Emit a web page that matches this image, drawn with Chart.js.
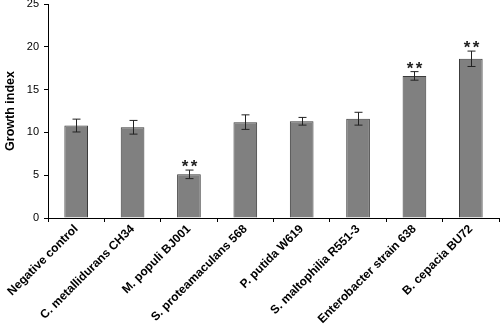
<!DOCTYPE html>
<html>
<head>
<meta charset="utf-8">
<script src="https://cdn.jsdelivr.net/npm/chart.js@4/dist/chart.umd.min.js"></script>
<style>
  html, body { margin: 0; padding: 0; background: #fff; }
  #wrap { width: 500px; height: 326px; }
</style>
</head>
<body>
<div id="wrap"><canvas id="growthChart"></canvas></div>
<script>
const strains = [
  "Negative control",
  "C. metallidurans CH34",
  "M. populi BJ001",
  "S. proteamaculans 568",
  "P. putida W619",
  "S. maltophilia R551-3",
  "Enterobacter strain 638",
  "B. cepacia BU72"
];
const growthIndex = [10.8, 10.6, 5.1, 11.2, 11.3, 11.6, 16.6, 18.6];
const errors = [0.75, 0.8, 0.5, 0.85, 0.45, 0.75, 0.5, 0.9];
const significant = [false, false, true, false, false, false, true, true];
const yTicks = [0, 5, 10, 15, 20, 25];

const FONT = "'Liberation Sans', Arial, sans-serif";

// error bars + "**" markers, positioned through the chart scales
const errorBarPlugin = {
  id: "errorBars",
  afterDatasetsDraw(chart) {
    const ctx = chart.ctx;
    const x = chart.scales.x;
    const y = chart.scales.y;
    ctx.save();
    ctx.strokeStyle = "#222";
    ctx.lineWidth = 1;
    growthIndex.forEach((v, i) => {
      const cx = Math.round(x.getPixelForValue(i)) + 0.5;
      const top = y.getPixelForValue(v + errors[i]);
      const bot = y.getPixelForValue(v - errors[i]);
      ctx.beginPath();
      ctx.moveTo(cx, top);
      ctx.lineTo(cx, bot);
      ctx.moveTo(cx - 4, top);
      ctx.lineTo(cx + 4, top);
      ctx.moveTo(cx - 4, bot);
      ctx.lineTo(cx + 4, bot);
      ctx.stroke();
      if (significant[i]) {
        ctx.fillStyle = "#222";
        ctx.font = "bold 17px " + FONT;
        ctx.textAlign = "center";
        ctx.textBaseline = "alphabetic";
        ctx.fillText("*", cx - 4.5, top + 2);
        ctx.fillText("*", cx + 4.5, top + 2);
      }
    });
    ctx.restore();
  }
};

new Chart(document.getElementById("growthChart"), {
  type: "bar",
  data: {
    labels: strains,
    datasets: [{
      data: growthIndex,
      backgroundColor: "#808080",
      borderColor: "#3a3a3a",
      borderWidth: 1,
      borderSkipped: "bottom",
      categoryPercentage: 1,
      barPercentage: 0.42
    }]
  },
  options: {
    responsive: true,
    maintainAspectRatio: false,
    animation: false,
    layout: { padding: { top: 4, right: 1, left: 0, bottom: 0 } },
    plugins: {
      legend: { display: false },
      tooltip: { enabled: false }
    },
    scales: {
      x: {
        grid: { display: true, drawOnChartArea: false, tickLength: 4, color: "#000", offset: true },
        border: { display: true, color: "#000", width: 1 },
        ticks: {
          color: "#000",
          font: { family: FONT, size: 12, weight: "bold" },
          minRotation: 45,
          maxRotation: 45,
          autoSkip: false,
          padding: 0
        },
        afterFit(scale) {
          scale.height = 108;
          scale.paddingLeft = 0;
          scale.paddingRight = 0;
        }
      },
      y: {
        min: 0,
        max: 25,
        afterBuildTicks(scale) {
          scale.ticks = yTicks.map(v => ({ value: v }));
        },
        grid: { display: true, drawOnChartArea: false, tickLength: 4, color: "#000" },
        border: { display: true, color: "#000", width: 1 },
        ticks: {
          color: "#000",
          font: { family: FONT, size: 11 },
          padding: 5
        },
        title: {
          display: true,
          text: "Growth index",
          color: "#000",
          font: { family: FONT, size: 12.5, weight: "bold" },
          padding: { top: 3, bottom: 4 }
        },
        afterFit(scale) {
          scale.width = 48;
          scale.paddingTop = 0;
          scale.paddingBottom = 0;
        }
      }
    }
  },
  plugins: [errorBarPlugin]
});
</script>
</body>
</html>
